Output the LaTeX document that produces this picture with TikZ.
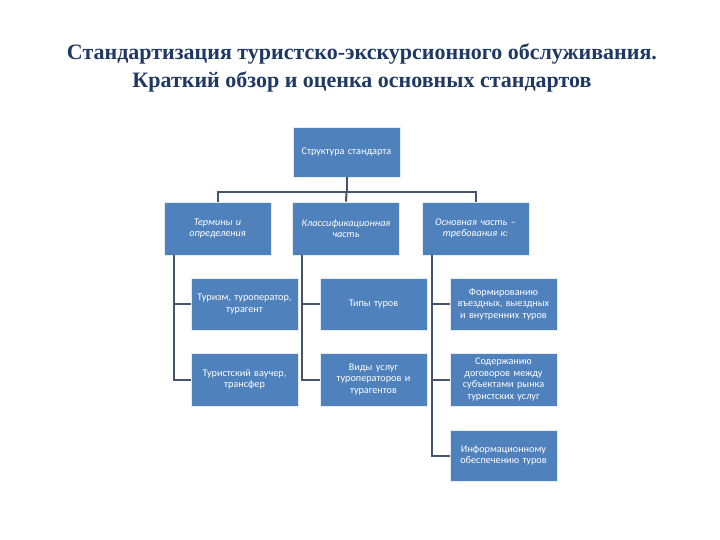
\documentclass[tikz,border=0pt]{standalone}
\usepackage{fontspec}
\setmainfont{Carlito}
\newfontfamily\titlefont{Liberation Serif}
\definecolor{boxblue}{HTML}{4F81BD}
\definecolor{linecol}{HTML}{44546A}
\definecolor{titlecol}{HTML}{1F3864}
\begin{document}
\begin{tikzpicture}[x=1pt,y=-1pt,
  box/.style={draw=white!85!boxblue,line width=0.6pt,fill=boxblue,text=white,align=center,
    font=\fontsize{10.2}{11.6}\selectfont,inner sep=1pt,text width=105pt},
  lvl/.style={box,font=\itshape\fontsize{10.2}{11.6}\selectfont},
  conn/.style={draw=linecol,line width=2pt}]
\useasboundingbox (0,0) rectangle (720,540);
\node[text=titlecol,align=center,font=\titlefont\bfseries\fontsize{22}{28}\selectfont] (title) at (362,68)
  {Стандартизация туристско-экскурсионного обслуживания.\\Краткий обзор и оценка основных стандартов};
\node[box,minimum width=105pt,minimum height=50pt] (top) at (346.5,152) {Структура стандарта};
\node[lvl,minimum width=105pt,minimum height=53pt] (b1) at (217.5,228.5) {Термины и\\определения};
\node[lvl,minimum width=105pt,minimum height=53pt] (b2) at (346,228.5) {Классификационная\\часть};
\node[lvl,minimum width=105pt,minimum height=53pt] (b3) at (475.5,228.5) {Основная часть –\\требования к:};
\node[box,minimum width=105pt,minimum height=52pt] (c11) at (244.5,304) {Туризм, туроператор,\\турагент};
\node[box,minimum width=104pt,minimum height=52pt] (c21) at (373.5,304) {Типы туров};
\node[box,minimum width=107pt,minimum height=52pt] (c31) at (503.5,304) {Формированию\\въездных, выездных\\и внутренних туров};
\node[box,minimum width=105pt,minimum height=53pt] (c12) at (244.5,379.5) {Туристский ваучер,\\трансфер};
\node[box,minimum width=104pt,minimum height=53pt] (c22) at (373.5,379.5) {Виды услуг\\туроператоров и\\турагентов};
\node[box,minimum width=107pt,minimum height=53pt] (c32) at (503.5,379.5) {Содержанию\\договоров между\\субъектами рынка\\туристских услуг};
\node[box,minimum width=107pt,minimum height=51pt] (c33) at (503.5,455.5) {Информационному\\обеспечению туров};
% bus
\coordinate (bus) at ([yshift=-15pt]top.south);
\draw[conn] (top.south) -- (bus);
\draw[conn] (b1.north) |- (bus) -| (b3.north);
\draw[conn] (bus) -- (b2.north);
% verticals
\coordinate (v1) at ([xshift=10pt]b1.south west);
\coordinate (v2) at ([xshift=10pt]b2.south west);
\coordinate (v3) at ([xshift=10pt]b3.south west);
\draw[conn] (v1) |- (c12.west);
\draw[conn] (v1 |- c11.west) -- (c11.west);
\draw[conn] (v2) |- (c22.west);
\draw[conn] (v2 |- c21.west) -- (c21.west);
\draw[conn] (v3) |- (c33.west);
\draw[conn] (v3 |- c31.west) -- (c31.west);
\draw[conn] (v3 |- c32.west) -- (c32.west);
\end{tikzpicture}
\end{document}
